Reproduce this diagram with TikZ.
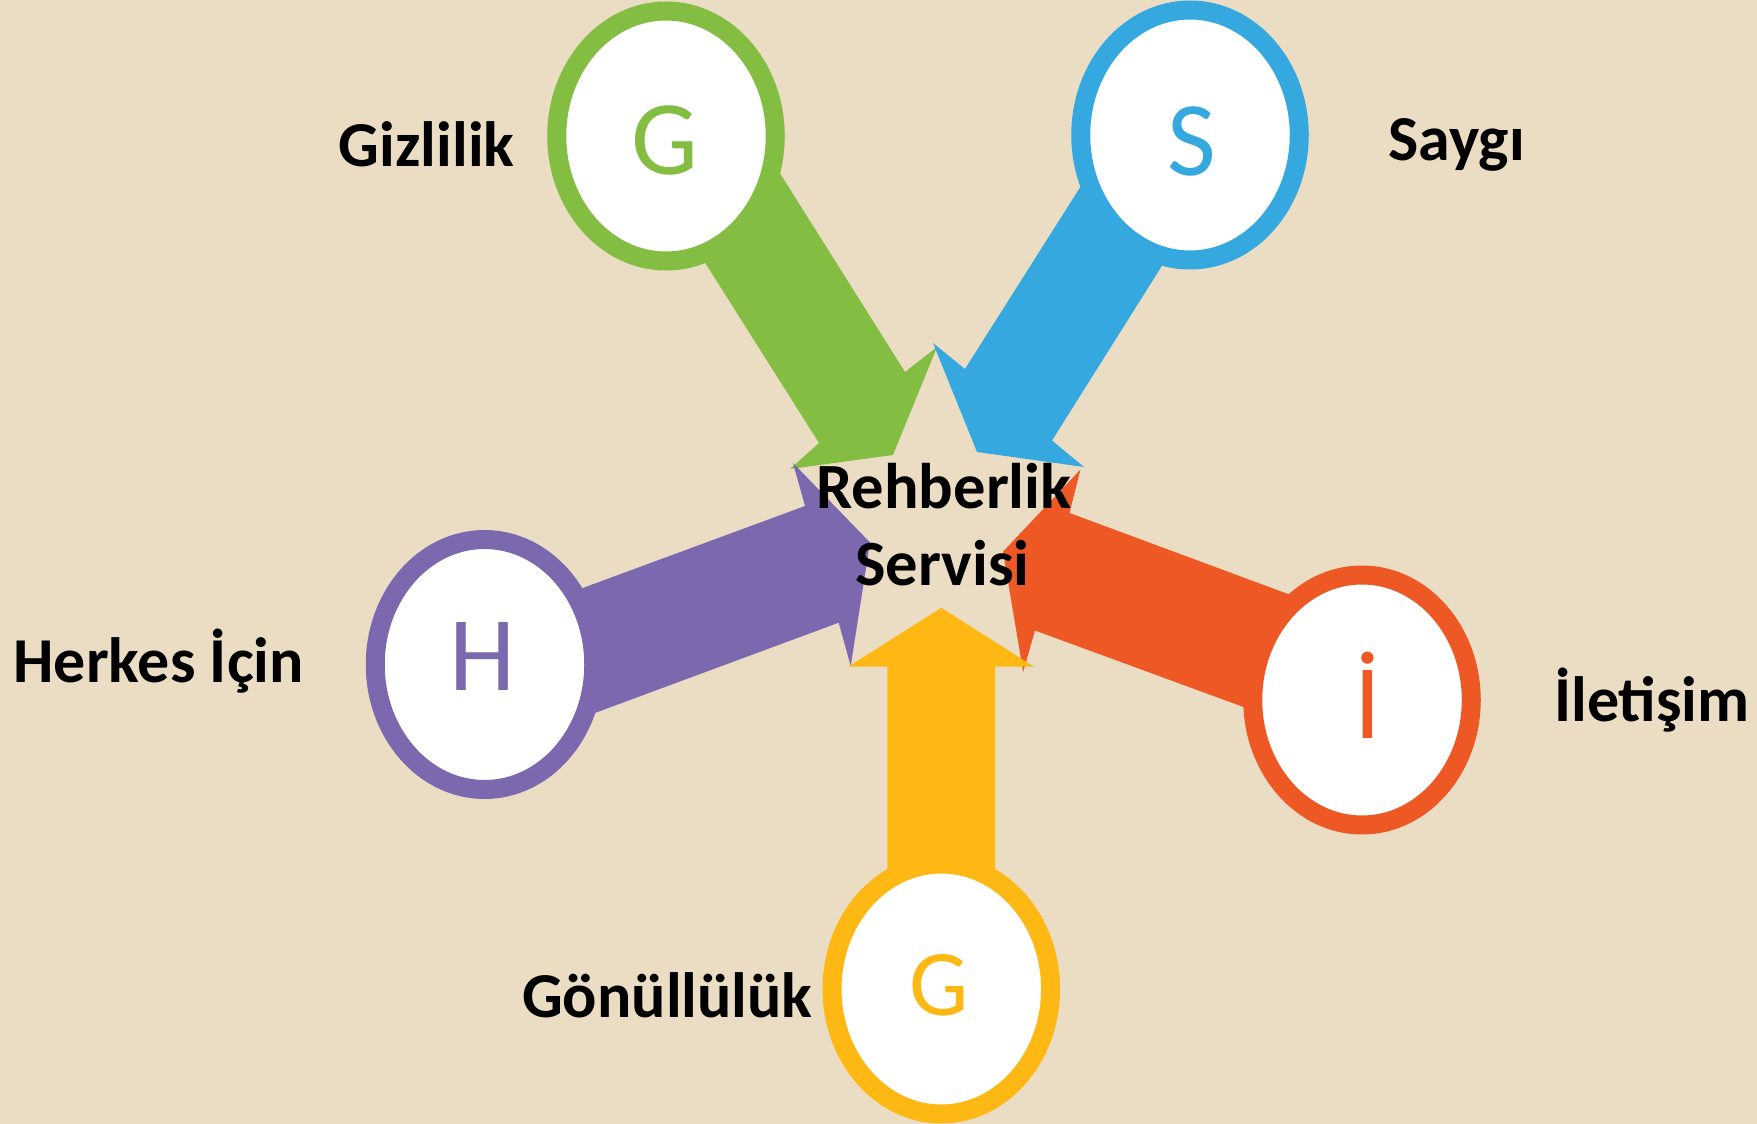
\documentclass[tikz,border=0pt]{standalone}
\usepackage{fontspec}
\setmainfont{Carlito}
\usetikzlibrary{shapes.geometric}
\definecolor{bgtan}{RGB}{235,221,196}
\definecolor{cgreen}{RGB}{131,189,65}
\definecolor{cblue}{RGB}{52,168,223}
\definecolor{cpurple}{RGB}{124,104,174}
\definecolor{corange}{RGB}{238,88,36}
\definecolor{cyellow}{RGB}{253,184,19}
\begin{document}
\begin{tikzpicture}[x=1pt,y=-1pt,
  ring/.style={ellipse, draw=#1, line width=19pt, fill=white,
    minimum width=218.5pt, minimum height=250pt, inner sep=0pt},
  letter/.style={anchor=base, inner sep=0pt, text=#1,
    font=\fontsize{106}{110}\selectfont},
  lbl/.style={anchor=base, inner sep=0pt,
    font=\fontsize{64}{70}\selectfont\bfseries},
  ctr/.style={anchor=base, inner sep=0pt,
    font=\fontsize{64.5}{70}\selectfont\bfseries}]
\useasboundingbox (0,0) rectangle (1757,1124);
\fill[bgtan] (0,0) rectangle (1757,1124);

% block arrows (drawn below the rings)
\fill[cgreen] (625,136) -- (819,443) -- (790,469) -- (893,455) -- (937,347) -- (905,372) -- (737,105) -- cycle;
\fill[cblue] (1134.5,101.5) -- (965,369) -- (933,343) -- (977,452) -- (1084,467) -- (1052,440.5) -- (1226,164) -- cycle;
\fill[cpurple] (469.4,629.8) -- (805,506) -- (793,463) -- (870,542.5) -- (850.7,666) -- (838.7,622.7) -- (481.4,755) -- cycle;
\fill[corange] (1382.7,629.1) -- (1069.5,513) -- (1080.5,469.5) -- (1003,551.7) -- (1023.2,672) -- (1035,630.5) -- (1338,741.7) -- cycle;
\fill[cyellow] (887.3,960) -- (887.3,666.7) -- (848.3,666.7) -- (941.3,607.8) -- (1034,666.7) -- (995,666.7) -- (995,960) -- cycle;

% rings
\node[ring=cgreen]  (gz) at (666,136) {};
\node[ring=cblue]   (sy) at (1190,135) {};
\node[ring=cpurple] (hk) at (484.5,664.5) {};
\node[ring=corange] (il) at (1362,700) {};
\node[ring=cyellow] (gn) at (941.3,989) {};

% letters in rings
\node[letter=cgreen]  (gzL) at (665.3,174.7) {G};
\node[letter=cblue]   (syL) at (1192,175) {S};
\node[letter=cpurple] (hkL) at (482.5,690.7) {H};
\node[letter=corange] (ilL) at (1368.3,738.3) {İ};
\node[letter=cyellow, font=\fontsize{94}{100}\selectfont] (gnL) at (939,1015.5) {G};

% labels
\node[lbl] (t1) at (426.7,166.7) {Gizlilik};
\node[lbl] (t2) at (1456.5,160) {Saygı};
\node[lbl] (t3) at (158.8,682.7) {Herkes İçin};
\node[lbl] (t4) at (1652,721) {İletişim};
\node[lbl] (t5) at (667.3,1017.5) {Gönüllülük};

% centre
\node[ctr] (c1) at (944,508) {Rehberlik};
\node[ctr] (c2) at (942.5,585) {Servisi};
\end{tikzpicture}
\end{document}
